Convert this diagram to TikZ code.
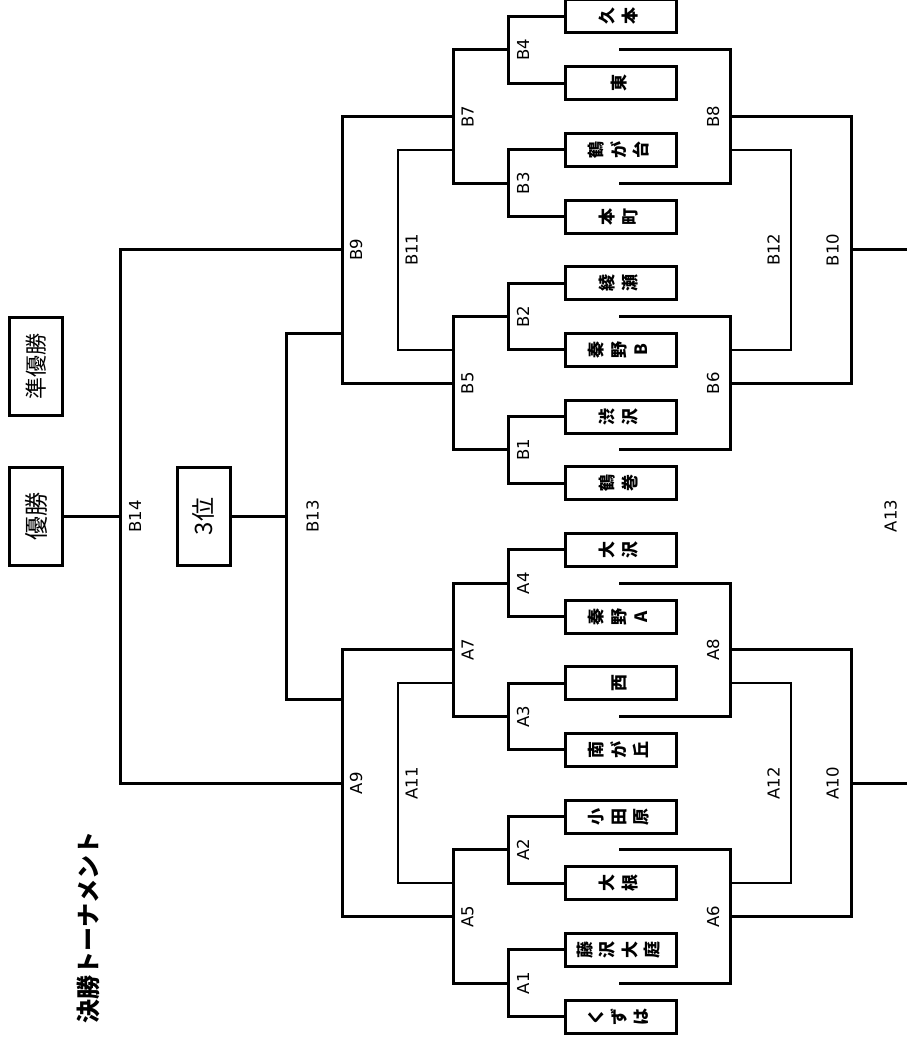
\documentclass[tikz,border=0pt]{standalone}
\usepackage{graphicx}
\usepackage{fontspec}
\setmainfont{DejaVu Sans}
\newfontfamily\jp{Noto Sans CJK JP}
\newcommand{\tatetext}[1]{\rotatebox{90}{\begin{tabular}{@{}c@{}}#1\end{tabular}}}
\tikzset{
  team/.style={draw, line width=3pt, minimum width=111pt, minimum height=33pt, inner sep=0pt,
    font=\jp\bfseries\fontsize{17}{22.5}\selectfont},
  bigbox/.style={draw, line width=3pt, minimum width=53pt, minimum height=98pt, inner sep=0pt},
  br/.style={line width=3pt},
  thinbr/.style={line width=1.8pt},
  lbl/.style={rotate=90, inner sep=0pt, font=\fontsize{16.5}{18}\selectfont},
}
\begin{document}
\begin{tikzpicture}[x=1pt,y=-1pt]
\useasboundingbox (0,0) rectangle (906,1038);
% team boxes
\node[team] (t0)  at (620.5,16.5)  {\tatetext{久\\本}};
\node[team] (t1)  at (620.5,83.2)  {\tatetext{東}};
\node[team] (t2)  at (620.5,149.8) {\tatetext{鶴\\が\\台}};
\node[team] (t3)  at (620.5,216.5) {\tatetext{本\\町}};
\node[team] (t4)  at (620.5,283.2) {\tatetext{綾\\瀬}};
\node[team] (t5)  at (620.5,349.8) {\tatetext{秦\\野\\B}};
\node[team] (t6)  at (620.5,416.5) {\tatetext{渋\\沢}};
\node[team] (t7)  at (620.5,483.2) {\tatetext{鶴\\巻}};
\node[team] (t8)  at (620.5,549.9) {\tatetext{大\\沢}};
\node[team] (t9)  at (620.5,616.5) {\tatetext{秦\\野\\A}};
\node[team] (t10) at (620.5,683.2) {\tatetext{西}};
\node[team] (t11) at (620.5,749.9) {\tatetext{南\\が\\丘}};
\node[team] (t12) at (620.5,816.5) {\tatetext{小\\田\\原}};
\node[team] (t13) at (620.5,883.2) {\tatetext{大\\根}};
\node[team] (t14) at (620.5,949.9) {\tatetext{藤\\沢\\大\\庭}};
\node[team] (t15) at (620.5,1016.5){\tatetext{く\\ず\\は}};
% left boxes
\node[bigbox, font=\jp\fontsize{22}{24}\selectfont] (second) at (36,366.5) {\rotatebox{90}{準優勝}};
\node[bigbox, font=\jp\fontsize{24}{26}\selectfont] (win) at (36,516.5) {\rotatebox{90}{優勝}};
\node[bigbox, font=\jp\fontsize{24}{26}\selectfont] (third) at (203.5,516.5) {\rotatebox{90}{3位}};
\node[rotate=90, inner sep=0pt, font=\jp\bfseries\fontsize{24}{26}\selectfont] (title) at (88.5,927.5) {決勝トーナメント};
% junction coordinates, left
\coordinate (B4) at (508,49.85);
\coordinate (B3) at (508,183.15);
\coordinate (B2) at (508,316.5);
\coordinate (B1) at (508,449.85);
\coordinate (A4) at (508,583.2);
\coordinate (A3) at (508,716.55);
\coordinate (A2) at (508,849.85);
\coordinate (A1) at (508,983.2);
\coordinate (B7) at (453,116.5);
\coordinate (B5) at (453,383.2);
\coordinate (A7) at (453,649.9);
\coordinate (A5) at (453,916.5);
\coordinate (B9) at (342,249.85);
\coordinate (A9) at (342,783.2);
\coordinate (B14) at (120,516.5);
\coordinate (B13) at (286,516.5);
\coordinate (b13a) at (342,333.3);
\coordinate (b13b) at (342,699.5);
\coordinate (B11) at (398,249.8);
\coordinate (b11a) at (453,149.8);
\coordinate (b11b) at (453,349.8);
\coordinate (A11) at (398,783.2);
\coordinate (a11a) at (453,683.2);
\coordinate (a11b) at (453,883.2);
% junction coordinates, right
\coordinate (r0) at (619,49.85);
\coordinate (r1) at (619,183.15);
\coordinate (r2) at (619,316.5);
\coordinate (r3) at (619,449.85);
\coordinate (r4) at (619,583.2);
\coordinate (r5) at (619,716.55);
\coordinate (r6) at (619,849.85);
\coordinate (r7) at (619,983.2);
\coordinate (B8) at (730,116.5);
\coordinate (B6) at (730,383.2);
\coordinate (A8) at (730,649.9);
\coordinate (A6) at (730,916.5);
\coordinate (B10) at (851,249.85);
\coordinate (A10) at (851,783.2);
\coordinate (eB10) at (910,249.85);
\coordinate (eA10) at (910,783.2);
\coordinate (B12) at (791,249.8);
\coordinate (b12a) at (730,149.8);
\coordinate (b12b) at (730,349.8);
\coordinate (A12) at (791,783.2);
\coordinate (a12a) at (730,683.2);
\coordinate (a12b) at (730,883.2);
% left bracket lines
\draw[br] (t0.west) -| (B4) |- (t1.west);
\draw[br] (t2.west) -| (B3) |- (t3.west);
\draw[br] (t4.west) -| (B2) |- (t5.west);
\draw[br] (t6.west) -| (B1) |- (t7.west);
\draw[br] (t8.west) -| (A4) |- (t9.west);
\draw[br] (t10.west) -| (A3) |- (t11.west);
\draw[br] (t12.west) -| (A2) |- (t13.west);
\draw[br] (t14.west) -| (A1) |- (t15.west);
\draw[br] (B4) -| (B7) |- (B3);
\draw[br] (B2) -| (B5) |- (B1);
\draw[br] (A4) -| (A7) |- (A3);
\draw[br] (A2) -| (A5) |- (A1);
\draw[br] (B7) -| (B9) |- (B5);
\draw[br] (A7) -| (A9) |- (A5);
\draw[br] (B9) -| (B14) |- (A9);
\draw[br] (B14) -- (win.east);
\draw[br] (b13a) -| (B13) |- (b13b);
\draw[br] (B13) -- (third.east);
\draw[thinbr] (b11a) -| (B11) |- (b11b);
\draw[thinbr] (a11a) -| (A11) |- (a11b);
% right bracket lines
\draw[br] (r0) -| (B8) |- (r1);
\draw[br] (r2) -| (B6) |- (r3);
\draw[br] (r4) -| (A8) |- (r5);
\draw[br] (r6) -| (A6) |- (r7);
\draw[br] (B8) -| (B10) |- (B6);
\draw[br] (A8) -| (A10) |- (A6);
\draw[br] (B10) -- (eB10);
\draw[br] (A10) -- (eA10);
\draw[thinbr] (b12a) -| (B12) |- (b12b);
\draw[thinbr] (a12a) -| (A12) |- (a12b);
% labels
\foreach \c in {B4,B3,B2,B1,A4,A3,A2,A1} \node[lbl] at ([xshift=15pt]\c) {\c};
\foreach \c in {B7,B5,A7,A5} \node[lbl] at ([xshift=14.5pt]\c) {\c};
\foreach \c in {B9,A9} \node[lbl] at ([xshift=14pt]\c) {\c};
\foreach \c in {B11,A11} \node[lbl] at ([xshift=13.5pt]\c) {\c};
\node[lbl] at ([xshift=15pt]B14) {B14};
\node[lbl] at ([xshift=26.5pt]B13) {B13};
\foreach \c in {B8,B6,A8,A6} \node[lbl] at ([xshift=-17pt]\c) {\c};
\foreach \c in {B12,A12} \node[lbl] at ([xshift=-17.5pt]\c) {\c};
\foreach \c in {B10,A10} \node[lbl] at ([xshift=-18.5pt]\c) {\c};
\node[lbl] (a13) at (890.5,516) {A13};
\end{tikzpicture}
\end{document}
